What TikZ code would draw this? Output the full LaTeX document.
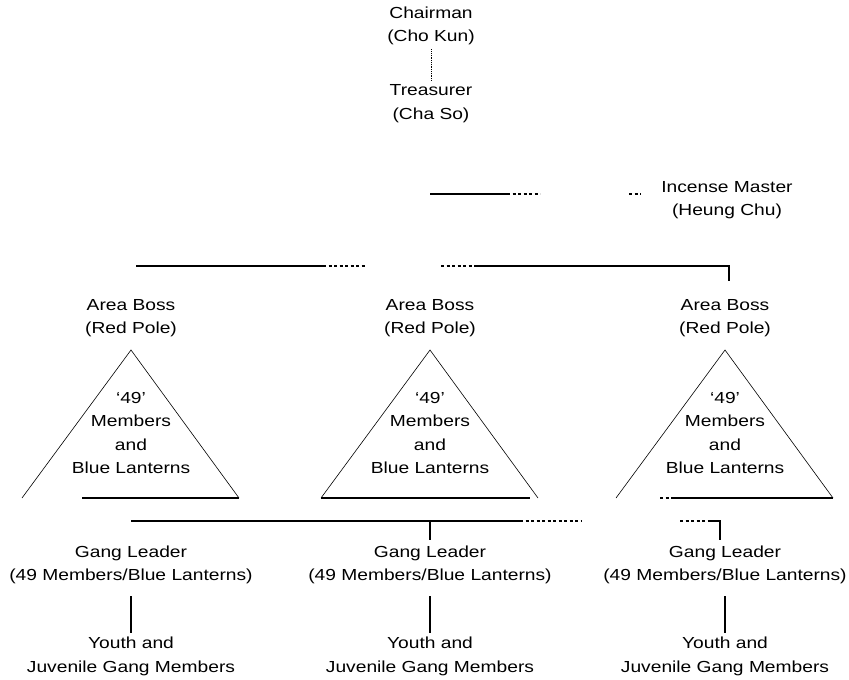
\documentclass[tikz,border=0pt]{standalone}
\usepackage{fontspec}
\setmainfont[FakeStretch=1.2]{Liberation Sans}
\usetikzlibrary{calc}

\begin{document}
\begin{tikzpicture}[x=1pt, y=-1pt,
    role/.style={align=center, inner sep=4pt, font=\fontsize{16}{23.5}\selectfont},
    link/.style={line width=1.2pt},
    faded/.style={line width=1.2pt, dash pattern=on 3pt off 2.5pt},
    triside/.style={line width=0.6pt}]
    \useasboundingbox (0,0) rectangle (849,680);

    % top of the society
    \node[role] (chair) at (431,26) {Chairman\\(Cho Kun)};
    \node[role] (treas) at (431,103.5) {Treasurer\\(Cha So)};
    \node[role] (incense) at (727,200) {Incense Master\\(Heung Chu)};
    \draw[densely dotted, line width=0.8pt] (chair) -- (treas);

    \coordinate (incA) at (430,194);
    \coordinate (incB) at (507,194);
    \coordinate (incC) at (540,194);
    \coordinate (incD) at (629,194);
    \draw[link] (incA) -- (incB);
    \draw[faded] (incB) -- (incC);
    \draw[faded] (incD) -- ++(12,0);

    % the three areas
    \foreach \n/\x in {1/131, 2/430, 3/725} {
        \node[role] (boss\n) at (\x,318) {Area Boss\\(Red Pole)};
        \coordinate (top\n) at (\x,350);
        \coordinate (bl\n) at (\x-109,498);
        \coordinate (br\n) at (\x+108,498);
        \draw[triside] (bl\n) -- (top\n) -- (br\n);
        \node[role] (mem\n) at (\x,433) {`49'\\Members\\and\\Blue Lanterns};
        \node[role] (lead\n) at (\x,565) {Gang Leader\\(49 Members/Blue Lanterns)};
        \node[role] (youth\n) at (\x,656.5) {Youth and\\Juvenile Gang Members};
        \draw[link, shorten <=8pt] (lead\n) -- (youth\n);
    }

    % bases of the triangles
    \draw[link] (82,498) -- (br1);
    \draw[link] (bl2) -- (530,498);
    \draw[faded] (660,498) -- (672,498);
    \draw[link] (672,498) -- (br3);

    % line over the area bosses
    \coordinate (bossA) at (136,266);
    \coordinate (bossB) at (323,266);
    \coordinate (bossC) at (365,266);
    \coordinate (bossD) at (441,266);
    \coordinate (bossE) at (477,266);
    \coordinate (drop3) at (729,281);
    \draw[link] (bossA) -- (bossB);
    \draw[faded] (bossB) -- (bossC);
    \draw[faded] (bossD) -- (bossE);
    \draw[link] (bossE) -| (drop3);

    % line over the gang leaders
    \coordinate (gangA) at (131,521);
    \coordinate (gangB) at (520,521);
    \coordinate (gangC) at (582,521);
    \coordinate (gangD) at (680,521);
    \coordinate (gangE) at (710,521);
    \draw[link] (gangA) -- (gangB);
    \draw[faded] (gangB) -- (gangC);
    \draw[link] (430,521) -- (430,540);
    \draw[faded] (gangD) -- (gangE);
    \draw[link] (gangE) -| (720,540);
\end{tikzpicture}
\end{document}
